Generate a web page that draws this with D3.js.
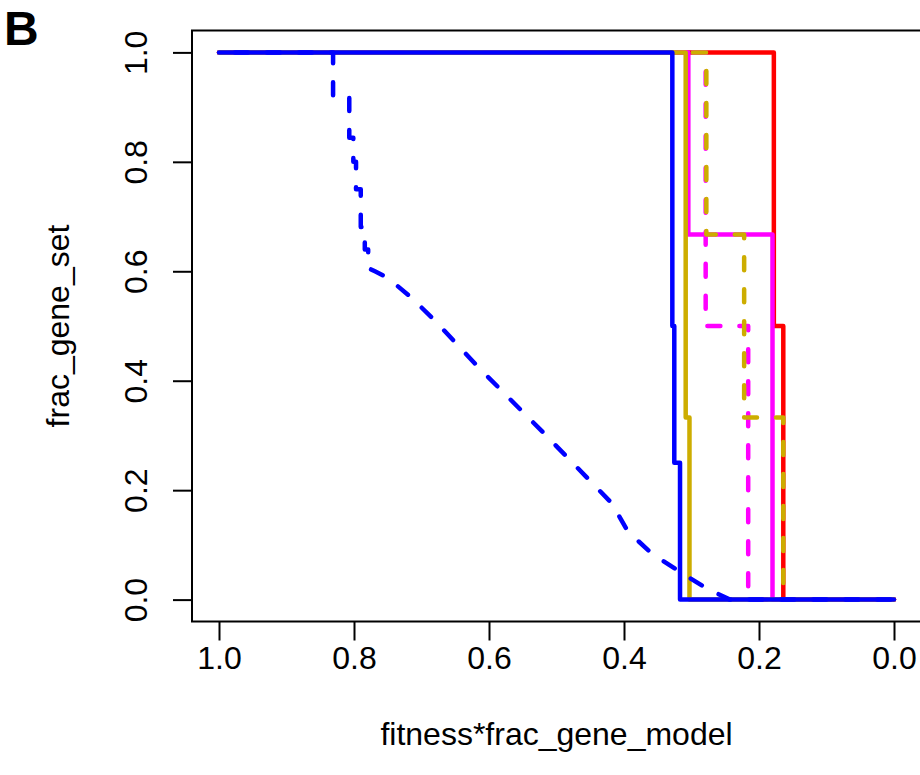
<!DOCTYPE html>
<html>
<head>
<meta charset="utf-8">
<script src="https://cdn.jsdelivr.net/npm/d3@7/dist/d3.min.js"></script>
<style>
  body { margin: 0; background: #fff; }
  svg text { font-family: "Liberation Sans", Arial, Helvetica, sans-serif; fill: #000; }
</style>
</head>
<body>
<svg id="chart" width="920" height="775"></svg>
<script>
// values (x runs from 1 down to 0)
const xTicks = [1.0, 0.8, 0.6, 0.4, 0.2, 0.0];
const yTicks = [0.0, 0.2, 0.4, 0.6, 0.8, 1.0];

const redSolidX = [1, 0.178, 0.164, 0];
const redSolidY = [1, 0.5, 0, 0];

const magentaSolidX = [1, 0.3047, 0.180, 0];
const magentaSolidY = [1, 0.667, 0, 0];

const magentaDashX = [1, 0.279, 0.216, 0];
const magentaDashY = [1, 0.5, 0, 0];

const goldSolidX = [1, 0.3086, 0.303, 0];
const goldSolidY = [1, 0.333, 0, 0];

const goldDashX = [1, 0.278, 0.222, 0.164, 0];
const goldDashY = [1, 0.667, 0.333, 0, 0];

const blueSolidX = [1, 0.3284, 0.3255, 0.317, 0];
const blueSolidY = [1, 0.5, 0.25, 0, 0];

// this one is drawn as a polyline, corners included
const blueDashX = [1, 0.831, 0.831, 0.807, 0.807, 0.801, 0.801, 0.797, 0.797, 0.790, 0.790, 0.784, 0.784, 0.779, 0.779,
                   0.769, 0.750, 0.716, 0.681, 0.616, 0.517, 0.418, 0.394, 0.3585, 0.320, 0.277, 0.243, 0];
const blueDashY = [1, 1, 0.919, 0.919, 0.844, 0.844, 0.80, 0.80, 0.75, 0.75, 0.681, 0.681, 0.64, 0.64, 0.606,
                   0.600, 0.588, 0.553, 0.511, 0.425, 0.302, 0.176, 0.124, 0.084, 0.053, 0.020, 0, 0];

const zip = (xs, ys) => xs.map((v, i) => [v, ys[i]]);

// drawing order matters, later ones sit on top
const series = [
  { pts: zip(redSolidX, redSolidY), color: "#FF0000", dash: null, step: true },
  { pts: zip(magentaSolidX, magentaSolidY), color: "#FF00FF", dash: null, step: true },
  { pts: zip(magentaDashX, magentaDashY), color: "#FF00FF", dash: "13,19", off: 6, step: true },
  { pts: zip(goldSolidX, goldSolidY), color: "#CDAD00", dash: null, step: true },
  { pts: zip(goldDashX, goldDashY), color: "#CDAD00", dash: "13,19", off: 6, step: true },
  { pts: zip(blueSolidX, blueSolidY), color: "#0000FF", dash: null, step: true },
  { pts: zip(blueDashX, blueDashY), color: "#0000FF", dash: "13,19", off: 16, step: false }
];

const svg = d3.select("#chart");
svg.append("rect").attr("width", 920).attr("height", 775).attr("fill", "#fff");

const pLeft = 192, pRight = 921, pTop = 30.5, pBottom = 621.5;
const x = d3.scaleLinear().domain([1.04, -0.04]).range([pLeft, pRight]);
const y = d3.scaleLinear().domain([-0.04, 1.04]).range([pBottom, pTop]);

const stepLine = d3.line().x(d => x(d[0])).y(d => y(d[1])).curve(d3.curveStepAfter);
const polyLine = d3.line().x(d => x(d[0])).y(d => y(d[1]));

series.forEach(s => {
  svg.append("path")
    .attr("d", (s.step ? stepLine : polyLine)(s.pts))
    .attr("fill", "none")
    .attr("stroke", s.color)
    .attr("stroke-width", 4.5)
    .attr("stroke-linecap", "round")
    .attr("stroke-linejoin", "round")
    .attr("stroke-dasharray", s.dash)
    .attr("stroke-dashoffset", s.dash ? s.off : null);
});

// frame (right edge falls just off the page)
svg.append("rect")
  .attr("x", pLeft).attr("y", pTop)
  .attr("width", pRight - pLeft).attr("height", pBottom - pTop)
  .attr("fill", "none").attr("stroke", "#000").attr("stroke-width", 2);

const xAxis = svg.append("g")
  .attr("transform", `translate(0,${pBottom})`)
  .call(d3.axisBottom(x).tickValues(xTicks).tickSize(19).tickPadding(6).tickFormat(d3.format(".1f")));
xAxis.select(".domain").remove();
xAxis.selectAll("line").attr("stroke-width", 2);
xAxis.selectAll("text").style("font-size", "32px");

const yAxis = svg.append("g")
  .attr("transform", `translate(${pLeft},0)`)
  .call(d3.axisLeft(y).tickValues(yTicks).tickSize(19).tickFormat(d3.format(".1f")));
yAxis.select(".domain").remove();
yAxis.selectAll("line").attr("stroke-width", 2);
yAxis.selectAll("text")
  .style("font-size", "32px")
  .attr("x", null).attr("dy", null)
  .attr("text-anchor", "middle")
  .attr("transform", "translate(-45,0) rotate(-90)");
svg.selectAll("g").attr("font-family", null);

svg.append("text")
  .attr("x", (pLeft + pRight) / 2).attr("y", 745)
  .attr("text-anchor", "middle")
  .style("font-size", "32px")
  .text("fitness*frac_gene_model");

svg.append("text")
  .attr("transform", `translate(69,${(pTop + pBottom) / 2}) rotate(-90)`)
  .attr("text-anchor", "middle")
  .style("font-size", "32px")
  .text("frac_gene_set");

svg.append("text")
  .attr("x", 4).attr("y", 45)
  .style("font-size", "48px").style("font-weight", "bold")
  .text("B");
</script>
</body>
</html>
